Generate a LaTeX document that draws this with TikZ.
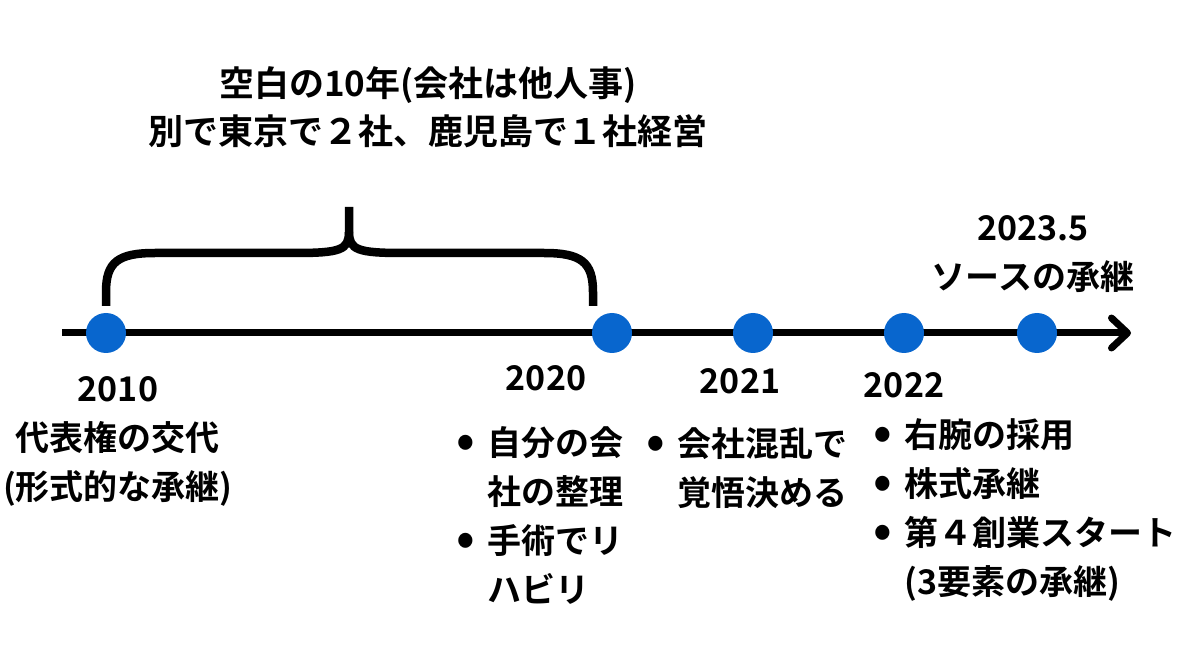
\documentclass[tikz,border=0pt]{standalone}
\usepackage{fontspec}
\setmainfont{Noto Sans CJK JP}[BoldFont={* Bold}]
\usetikzlibrary{arrows.meta}
\definecolor{dotblue}{RGB}{8,102,206}
\newcommand{\bitem}[1]{\makebox[30pt][l]{\hspace*{-1pt}\raisebox{-2.5pt}{\scalebox{1.45}{•}}}#1}
\newcommand{\bcont}[1]{\hspace*{30pt}#1}
\begin{document}
\begin{tikzpicture}[x=1pt,y=-1pt,
  txt/.style={inner sep=0pt, font=\fontsize{34}{49}\selectfont\bfseries, anchor=base},
  ttl/.style={inner sep=0pt, font=\fontsize{35}{48}\selectfont\bfseries, anchor=base},
  dot/.style={circle, fill=dotblue, minimum size=40pt, inner sep=0pt},
  tl/.style={line width=7pt, -{Straight Barb[length=16pt,width=30pt,round]}},
  brace/.style={line width=8.5pt}]
\useasboundingbox (0,0) rectangle (1200,668);
\fill[white] (0,0) rectangle (1200,668);
% timeline
\coordinate (s) at (62,333);
\coordinate (e) at (1131,333);
\draw[tl] (s) -- (e);
\node[dot] (d1) at (106,333) {};
\node[dot] (d2) at (612,333) {};
\node[dot] (d3) at (753,333) {};
\node[dot] (d4) at (904,333) {};
\node[dot] (d5) at (1037,333) {};
% brace
\draw[brace] (106,306) -- (106,292) .. controls (106,262) and (118,253) .. (155,253) -- (295,253) .. controls (340,253) and (349,250) .. (349,232) -- (349,207);
\draw[brace] (593,306) -- (593,292) .. controls (593,262) and (581,253) .. (544,253) -- (403,253) .. controls (358,253) and (349,250) .. (349,232);
% texts
\node[ttl] (title) at (428,97) {\begin{tabular}[t]{@{}c@{}}空白の10年(会社は他人事)\\別で東京で２社、鹿児島で１社経営\end{tabular}};
\node[txt] (y10) at (118,402) {\begin{tabular}[t]{@{}c@{}}2010\\代表権の交代\\(形式的な承継)\end{tabular}};
\node[txt] (y20) at (546,390) {2020};
\node[txt, anchor=base west] (b20) at (457,455) {\begin{tabular}[t]{@{}l@{}}\bitem{自分の会}\\\bcont{社の整理}\\\bitem{手術でリ}\\\bcont{ハビリ}\end{tabular}};
\node[txt] (y21) at (740,394) {2021};
\node[txt, anchor=base west] (b21) at (647,456) {\begin{tabular}[t]{@{}l@{}}\bitem{会社混乱で}\\\bcont{覚悟決める}\end{tabular}};
\node[txt] (y22) at (904,397) {2022};
\node[txt, anchor=base west] (b22) at (874,447) {\begin{tabular}[t]{@{}l@{}}\bitem{右腕の採用}\\\bitem{株式承継}\\\bitem{第４創業スタート}\\\bcont{(3要素の承継)}\end{tabular}};
\node[txt] (y23) at (1033,241) {\begin{tabular}[t]{@{}c@{}}2023.5\\ソースの承継\end{tabular}};
\end{tikzpicture}
\end{document}
